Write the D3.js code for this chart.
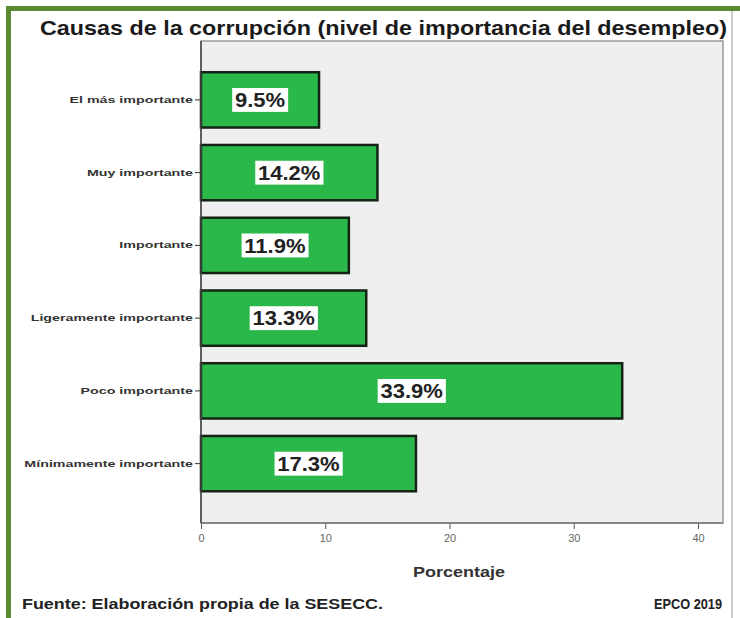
<!DOCTYPE html>
<html><head><meta charset="utf-8">
<script src="https://cdn.jsdelivr.net/npm/d3@7"></script>
<style>html,body{margin:0;padding:0;background:#fff;}svg{display:block;}</style>
</head><body>
<script>
const categories = ["El más importante","Muy importante","Importante","Ligeramente importante","Poco importante","Mínimamente importante"];
const values = [9.5, 14.2, 11.9, 13.3, 33.9, 17.3];
const valueLabels = ["9.5%","14.2%","11.9%","13.3%","33.9%","17.3%"];
const xTicks = [0, 10, 20, 30, 40];
const title = "Causas de la corrupción (nivel de importancia del desempleo)";
const xTitle = "Porcentaje";
const source = "Fuente: Elaboración propia de la SESECC.";
const credit = "EPCO 2019";

const W = 740, H = 618;
const svg = d3.select("body").append("svg").attr("width", W).attr("height", H);
const font = "'Liberation Sans', Arial, sans-serif";

// frame
svg.append("rect").attr("x",0).attr("y",0).attr("width",W).attr("height",H).attr("fill","#fff");
svg.append("rect").attr("x",6).attr("y",6).attr("width",W-6).attr("height",5).attr("fill","#5b8a32");
svg.append("rect").attr("x",6).attr("y",6).attr("width",5).attr("height",H-6).attr("fill","#5b8a32");
svg.append("line").attr("x1",732).attr("x2",732).attr("y1",11).attr("y2",H).attr("stroke","#bbb").attr("stroke-width",1.5);

const plot = {left:201, right:723, top:41, bottom:523};
const x = d3.scaleLinear().domain([0,40]).range([plot.left, 698]);
const y = d3.scaleBand().domain(categories).range([63.5, 500]).paddingInner(0.24).paddingOuter(0.12);

svg.append("rect").attr("x",plot.left).attr("y",plot.top).attr("width",plot.right-plot.left).attr("height",plot.bottom-plot.top)
  .attr("fill","#efefef").attr("stroke","#9a9a9a").attr("stroke-width",1.5);

// title
svg.append("text").attr("x",40).attr("y",35).attr("font-family",font).attr("font-weight","bold")
  .attr("font-size",21).attr("fill","#1a1a1a").attr("textLength",687).attr("lengthAdjust","spacingAndGlyphs").text(title);

// bars
svg.selectAll("rect.bar").data(values).join("rect").attr("class","bar")
  .attr("x", x(0)).attr("y",(d,i)=>y(categories[i]))
  .attr("width", d=>x(d)-x(0)).attr("height", y.bandwidth())
  .attr("fill","#2bb84a").attr("stroke","#142414").attr("stroke-width",2.5);

// value labels
const lab = svg.selectAll("g.lab").data(values).join("g").attr("class","lab")
  .attr("transform",(d,i)=>`translate(${(x(0)+x(d))/2},${y(categories[i])+y.bandwidth()/2}) scale(1.1,1)`);
lab.append("text").attr("text-anchor","middle").attr("dy","0.36em")
  .attr("font-family",font).attr("font-weight","bold").attr("font-size",20).attr("fill","#222")
  .text((d,i)=>valueLabels[i]);
lab.each(function(){
  const g = d3.select(this); const bb = g.select("text").node().getBBox();
  g.insert("rect","text").attr("x",bb.x-2.5).attr("y",bb.y-1).attr("width",bb.width+5).attr("height",bb.height+2).attr("fill","#fff");
});

// y axis
const sx = 1.5;
const yAxis = d3.axisLeft(y).tickSize(6).tickPadding(2);
const gy = svg.append("g").attr("transform",`translate(${plot.left},0)`).call(yAxis);
gy.select(".domain").remove();
gy.selectAll(".tick line").attr("stroke","#333");
gy.selectAll(".tick text").attr("font-family",font).attr("font-weight","bold").attr("font-size",9.5).attr("fill","#333")
  .attr("x", -8/sx).attr("transform",`scale(${sx},1)`);
svg.append("line").attr("x1",plot.left).attr("x2",plot.left).attr("y1",plot.top).attr("y2",plot.bottom).attr("stroke","#444").attr("stroke-width",1.5);

// x axis
const xAxis = d3.axisBottom(x).tickValues(xTicks).tickSize(6).tickPadding(5).tickFormat(d3.format("d"));
const gx = svg.append("g").attr("transform",`translate(0,${plot.bottom})`).call(xAxis);
gx.select(".domain").remove();
gx.selectAll(".tick line").attr("stroke","#555");
gx.selectAll(".tick text").attr("font-family",font).attr("font-size",11).attr("fill","#666");
svg.append("line").attr("x1",plot.left).attr("x2",plot.right).attr("y1",plot.bottom).attr("y2",plot.bottom).attr("stroke","#777").attr("stroke-width",1.5);

svg.append("text").attr("x",(plot.left+plot.right)/2 - 3).attr("y",577).attr("text-anchor","middle")
  .attr("font-family",font).attr("font-weight","bold").attr("font-size",14).attr("fill","#333")
  .attr("textLength",92).attr("lengthAdjust","spacingAndGlyphs").text(xTitle);

svg.append("text").attr("x",22).attr("y",609).attr("font-family",font).attr("font-weight","bold")
  .attr("font-size",14).attr("fill","#222").attr("textLength",361).attr("lengthAdjust","spacingAndGlyphs").text(source);
svg.append("text").attr("x",722).attr("y",609).attr("text-anchor","end").attr("font-family",font).attr("font-weight","bold")
  .attr("font-size",14).attr("fill","#222").attr("textLength",68).attr("lengthAdjust","spacingAndGlyphs").text(credit);
</script>
</body></html>
